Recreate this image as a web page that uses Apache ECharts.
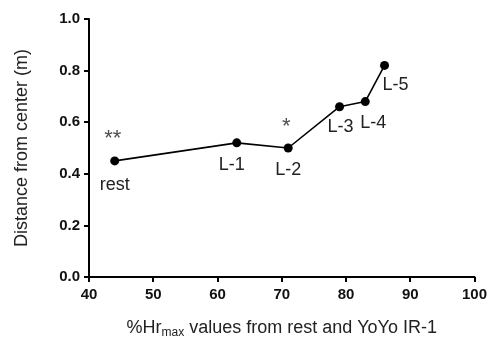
<!DOCTYPE html>
<html>
<head>
<meta charset="utf-8">
<script src="https://cdn.jsdelivr.net/npm/echarts@6/dist/echarts.min.js"></script>
<style>
html, body { margin: 0; padding: 0; background: #fff; }
#main { width: 490px; height: 347px; }
</style>
</head>
<body>
<div id="main"></div>
<script>
// values
var hrValues = [44, 63, 71, 79, 83, 86];
var distValues = [0.45, 0.52, 0.50, 0.66, 0.68, 0.82];
var pointNames = ['rest', 'L-1', 'L-2', 'L-3', 'L-4', 'L-5'];
var sigMarks = ['**', '', '*', '', '', ''];

// label offsets, so the names sit like in the figure
var nameOffsets = [[0, 24], [-5, 22], [0, 22], [1, 20], [8, 21], [11, 20]];
var sigOffsets = [[-2, -22], [0, 0], [-2, -21], [0, 0], [0, 0], [0, 0]];

var txtColor = '#222';

var lineData = hrValues.map(function (x, i) {
	return {
		value: [x, distValues[i]],
		label: { offset: nameOffsets[i] }
	};
});
var sigData = hrValues.map(function (x, i) {
	return {
		value: [x, distValues[i]],
		label: { offset: sigOffsets[i] }
	};
});

var myChart = echarts.init(document.getElementById('main'));
myChart.setOption({
	animation: false,
	grid: { left: 89, right: 14, top: 19, bottom: 70 },
	xAxis: {
		type: 'value',
		min: 40,
		max: 100,
		interval: 10,
		name: '%Hr{sub|max} values from rest and YoYo IR-1',
		nameLocation: 'middle',
		nameGap: 41,
		nameTextStyle: {
			fontFamily: 'Liberation Sans',
			fontSize: 18,
			color: txtColor,
			rich: {
				sub: { fontSize: 12, verticalAlign: 'bottom', padding: [9, 0, 0, 0], color: txtColor, fontFamily: 'Liberation Sans' }
			}
		},
		axisLine: { show: true, lineStyle: { color: '#000', width: 2 } },
		axisTick: { show: true, length: 5, lineStyle: { color: '#000', width: 2 } },
		axisLabel: { fontFamily: 'Liberation Sans', fontWeight: 'bold', fontSize: 15, color: '#111', margin: 10 },
		splitLine: { show: false }
	},
	yAxis: {
		type: 'value',
		min: 0,
		max: 1,
		interval: 0.2,
		name: 'Distance from center (m)',
		nameLocation: 'middle',
		nameGap: 58,
		nameTextStyle: { fontFamily: 'Liberation Sans', fontSize: 18, color: txtColor },
		axisLine: { show: true, lineStyle: { color: '#000', width: 2 } },
		axisTick: { show: true, length: 5, lineStyle: { color: '#000', width: 2 } },
		axisLabel: {
			fontFamily: 'Liberation Sans', fontWeight: 'bold', fontSize: 15, color: '#111', margin: 9,
			formatter: function (v) { return v.toFixed(1); }
		},
		splitLine: { show: false }
	},
	series: [{
		type: 'line',
		data: lineData,
		symbol: 'circle',
		symbolSize: 9,
		itemStyle: { color: '#000' },
		lineStyle: { color: '#000', width: 1.6 },
		label: {
			show: true,
			position: 'inside',
			fontFamily: 'Liberation Sans',
			fontSize: 18,
			color: txtColor,
			formatter: function (p) { return pointNames[p.dataIndex]; }
		}
	}, {
		type: 'scatter',
		data: sigData,
		symbolSize: 0,
		silent: true,
		label: {
			show: true,
			position: 'inside',
			fontFamily: 'Liberation Sans',
			fontSize: 22,
			color: txtColor,
			formatter: function (p) { return sigMarks[p.dataIndex]; }
		}
	}]
});
</script>
</body>
</html>
